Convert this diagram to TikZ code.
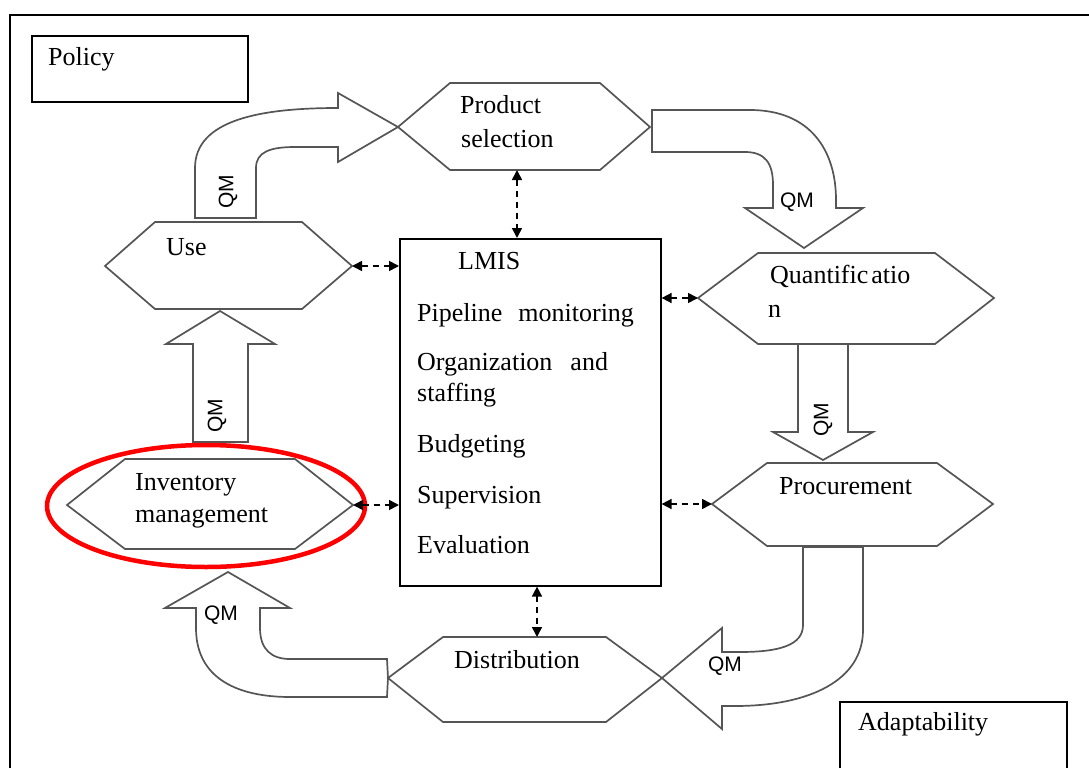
\documentclass[tikz,border=0pt]{standalone}
\usepackage{fontspec}
\setmainfont{Liberation Serif}
\newfontfamily\qmfont{Liberation Sans}
\usetikzlibrary{arrows.meta}
\definecolor{lg}{HTML}{555555}
\begin{document}
\begin{tikzpicture}[x=1pt,y=-1pt,
  shapeline/.style={draw=lg, line width=1.7pt, line join=miter},
  boxline/.style={draw=black, line width=1.6pt},
  lbl/.style={font=\fontsize{26}{30}\selectfont, anchor=base west, inner sep=0pt},
  qm/.style={font=\qmfont\fontsize{21}{24}\selectfont, inner sep=0pt},
  link/.style={dash pattern=on 6pt off 5pt, line width=1.6pt, {Triangle[length=10pt,width=10pt]}-{Triangle[length=10pt,width=10pt]}},
]
\useasboundingbox (0,0) rectangle (1089,768);
% outer frame
\draw[line width=2pt] (10,768) -- (10,15) -- (1089,15);

% Policy and Adaptability boxes
\node[boxline, anchor=north west, minimum width=216pt, minimum height=66pt, inner sep=0pt] (policybox) at (31,35) {};
\node[lbl] (policy) at (48,66) {Policy};
\draw[boxline] (840,768) -- (840,702) -- (1067,702) -- (1067,768);
\node[lbl] (adapt) at (858,730) {Adaptability};

% LMIS box
\node[boxline, anchor=north west, minimum width=261pt, minimum height=347pt, inner sep=0pt] (lmis) at (399,238) {};
\node[lbl] (t1) at (458,269) {LMIS};
\node[lbl] (t2) at (417,321) {Pipeline\hspace{16pt}monitoring};
\node[lbl] (t3) at (417,370) {Organization\hspace{18pt}and};
\node[lbl] (t4) at (417,401) {staffing};
\node[lbl] (t5) at (417,452) {Budgeting};
\node[lbl] (t6) at (417,503) {Supervision};
\node[lbl] (t7) at (417,553) {Evaluation};

% hexagon vertices
\coordinate (psW) at (398,127); \coordinate (psE) at (650,127); \coordinate (psS) at (517,170);
\coordinate (useW) at (105,266); \coordinate (useE) at (352,266);
\coordinate (qW) at (698,298); \coordinate (qE) at (994,298);
\coordinate (prW) at (712,504); \coordinate (prE) at (993,504);
\coordinate (invW) at (67,505); \coordinate (invE) at (353,505);
\coordinate (diW) at (388,678); \coordinate (diE) at (662,678); \coordinate (diN) at (537,637);

% hexagons
\draw[shapeline] (psW) -- (450,83) -- (600,83) -- (psE) -- (600,170) -- (450,170) -- cycle;
\draw[shapeline] (useW) -- (155,222) -- (302,222) -- (useE) -- (302,309) -- (155,309) -- cycle;
\draw[shapeline] (qW) -- (758,253) -- (935,253) -- (qE) -- (935,344) -- (758,344) -- cycle;
\draw[shapeline] (prW) -- (767,463) -- (937,463) -- (prE) -- (937,546) -- (767,546) -- cycle;
\draw[shapeline] (invW) -- (125,459) -- (295,459) -- (invE) -- (295,549) -- (125,549) -- cycle;
\draw[shapeline] (diW) -- (443,637) -- (606,637) -- (diE) -- (606,722) -- (443,722) -- cycle;

% hexagon labels
\node[lbl] (ps1) at (460,113) {Product};
\node[lbl] (ps2) at (461,147) {selection};
\node[lbl] (use) at (166,255) {Use};
\node[lbl] (q1) at (770,283) {Quantific\hspace{3pt}atio};
\node[lbl] (q2) at (768,317) {n};
\node[lbl] (pr) at (779,494) {Procurement};
\node[lbl] (inv1) at (135,490) {Inventory};
\node[lbl] (inv2) at (135,522) {management};
\node[lbl] (di) at (454,668) {Distribution};

% block arrows (QM)
\draw[shapeline] (195,218) -- (256,218) -- (256,168) .. controls (256,152) and (270,147) .. (295,147) -- (338,147) -- (338,162) -- (psW) -- (338,93) -- (338,108) .. controls (260,108) and (195,120) .. (195,168) -- cycle;
\draw[shapeline] (652,110) -- (750,110) .. controls (810,110) and (836,150) .. (836,200) -- (836,208) -- (863,208) -- (804,248) -- (745,208) -- (773,208) -- (773,185) .. controls (773,163) and (765,152) .. (745,152) -- (652,152) -- cycle;
\draw[shapeline] (798,344) -- (798,432) -- (773,432) -- (823,460) -- (873,432) -- (848,432) -- (848,344) -- cycle;
\draw[shapeline] (803,547) -- (803,625) .. controls (803,645) and (780,652) .. (740,652) -- (722,652) -- (722,628) -- (diE) -- (722,729) -- (722,706) -- (735,706) .. controls (810,706) and (863,680) .. (863,630) -- (863,547) -- cycle;
\draw[shapeline] (diW) -- (387,659) -- (290,659) .. controls (272,659) and (260,650) .. (260,628) -- (260,608) -- (290,608) -- (228,572) -- (165,608) -- (196,608) -- (196,628) .. controls (196,680) and (240,697) .. (290,697) -- (387,697) -- cycle;
\draw[shapeline] (193,442) -- (193,344) -- (166,344) -- (220,311) -- (275,344) -- (248,344) -- (248,442) -- cycle;

\node[qm, rotate=90] (qm1) at (228,192) {QM};
\node[qm] (qm2) at (797,202) {QM};
\node[qm, rotate=90] (qm3) at (823,420) {QM};
\node[qm, rotate=90] (qm4) at (217,416) {QM};
\node[qm] (qm5) at (221,615) {QM};
\node[qm] (qm6) at (725,666) {QM};

% red highlight
\draw[red, line width=4.5pt] (206,506) ellipse [x radius=159pt, y radius=61pt];

% dashed links to LMIS
\draw[link] (psS) -- (psS |- lmis.north);
\draw[link] (useE) -- (lmis.west |- useE);
\draw[link] (invE) -- (lmis.west |- invE);
\draw[link] (lmis.east |- qW) -- (qW);
\draw[link] (lmis.east |- prW) -- (prW);
\draw[link] (diN |- lmis.south) -- (diN);
\end{tikzpicture}
\end{document}
